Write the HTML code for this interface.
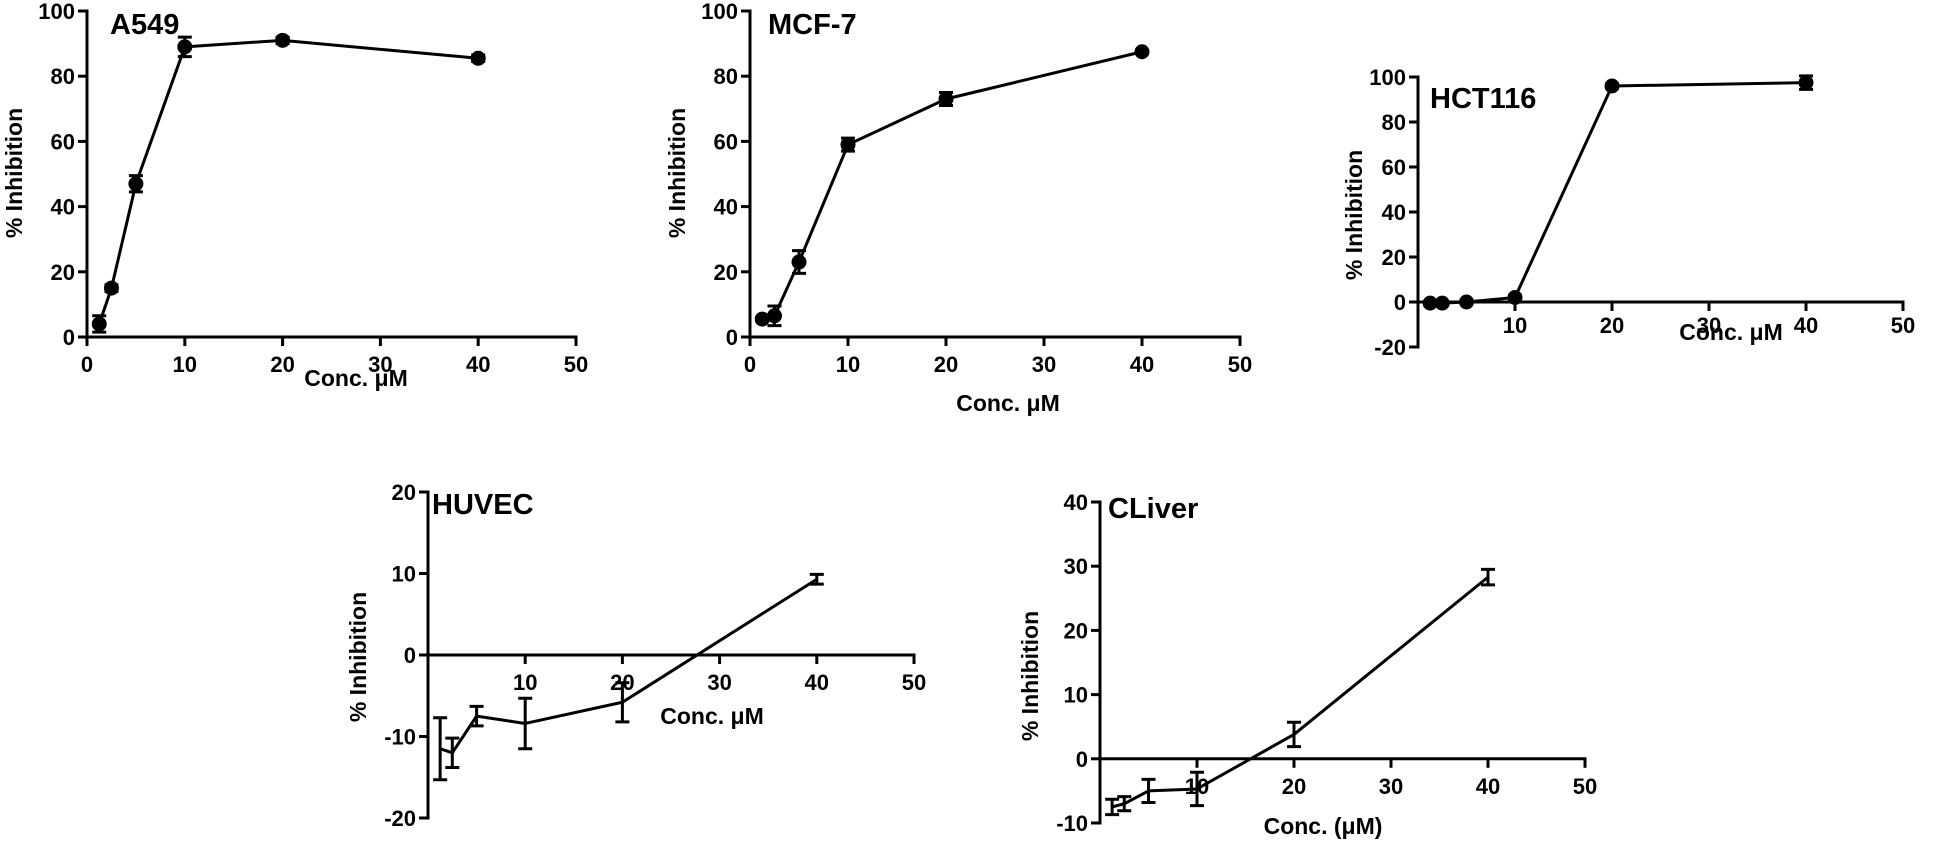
<!DOCTYPE html>
<html><head><meta charset="utf-8"><style>
html,body{margin:0;padding:0;background:#fff;}
svg{display:block;font-family:"Liberation Sans",Arial,sans-serif;font-weight:bold;}
</style></head><body>
<svg id="fig" width="1950" height="843" viewBox="0 0 1950 843"></svg>
<script>
const concentrations = [1.25, 2.5, 5, 10, 20, 40];
const a549Values = [4, 15, 47, 89, 91, 85.5];
const a549Errors = [2.5, 1, 2.5, 3, 1, 1];
const mcf7Values = [5.5, 6.5, 23, 59, 73, 87.5];
const mcf7Errors = [0.5, 3, 3.5, 2, 2, 0.5];
const hct116Values = [-0.5, -0.5, 0, 2, 96, 97.5];
const hct116Errors = [0.5, 0.5, 0.5, 1, 1, 3];
const huvecValues = [-11.5, -12, -7.5, -8.4, -5.8, 9.3];
const huvecErrors = [3.8, 1.8, 1.2, 3.1, 2.4, 0.6];
const cliverValues = [-7.5, -7, -5, -4.7, 3.8, 28.3];
const cliverErrors = [1.2, 1.1, 1.8, 2.6, 1.9, 1.2];
const xTicks = [0, 10, 20, 30, 40, 50];
const yTicksTop = [0, 20, 40, 60, 80, 100];
const yTicksHct = [-20, 0, 20, 40, 60, 80, 100];
const yTicksHuvec = [-20, -10, 0, 10, 20];
const yTicksCliver = [-10, 0, 10, 20, 30, 40];

const NS = "http://www.w3.org/2000/svg";
const svg = document.getElementById("fig");
function mk(tag, attrs, parent) {
  const e = document.createElementNS(NS, tag);
  for (const k in attrs) e.setAttribute(k, attrs[k]);
  (parent || svg).appendChild(e);
  return e;
}
function panel(p) {
  const g = mk("g", {});
  
  
  const sx = v => p.x0 + v / 50 * (p.x1 - p.x0);
  const sy = v => p.yb + (v - p.ymin) / (p.ymax - p.ymin) * (p.yt - p.yb);
  const axY = sy(p.xAxisAt);
  const ya = mk("line", {x1: p.x0, y1: sy(p.ymin) + 1.5, x2: p.x0, y2: sy(p.ymax) - 1.5, stroke: "#000", "stroke-width": 3}, g);
  
  
  p.yTicks.forEach(t => {
    mk("line", {x1: p.x0 - 9, y1: sy(t), x2: p.x0, y2: sy(t), stroke: "#000", "stroke-width": 3}, g);
    const tl = mk("text", {x: p.x0 - 12, y: sy(t) + 8, "font-size": 22, "text-anchor": "end"}, g);
    tl.textContent = t;
    
    
  });
  const xa = mk("line", {x1: p.x0, y1: axY, x2: sx(50) + 1.5, y2: axY, stroke: "#000", "stroke-width": 3}, g);
  
  
  xTicks.forEach(t => {
    if (t === 0 && !p.showZero) { return; }
    mk("line", {x1: sx(t), y1: axY, x2: sx(t), y2: axY + 9, stroke: "#000", "stroke-width": 3}, g);
    const tl = mk("text", {x: sx(t), y: axY + (p.tickGap || 35), "font-size": 22, "text-anchor": "middle"}, g);
    tl.textContent = t;
    
    
  });
  const pts = concentrations.map((c, i) => sx(c) + "," + sy(p.values[i])).join(" ");
  const ln = mk("polyline", {points: pts, fill: "none", stroke: "#000", "stroke-width": 3, "stroke-linejoin": "round"}, g);
  
  
  concentrations.forEach((c, i) => {
    const cx = sx(c), v = p.values[i], e = p.errors[i];
    const eb = mk("path", {d: `M${cx},${sy(v - e)}V${sy(v + e)}M${cx - 7},${sy(v - e)}H${cx + 7}M${cx - 7},${sy(v + e)}H${cx + 7}`, stroke: "#000", "stroke-width": 3, fill: "none"}, g);
    
    
    if (p.markers) {
      const m = mk("circle", {cx: cx, cy: sy(v), r: 7.5, fill: "#000"}, g);
      
      
    }
  });
  const ti = mk("text", {x: p.titleX, y: p.titleY, "font-size": 29}, g);
  ti.textContent = p.title;
  
  
  const xl = mk("text", {x: p.xlX, y: p.xlY, "font-size": 23, "text-anchor": "middle"}, g);
  xl.textContent = p.xlabel;
  
  
  const yl = mk("text", {x: 0, y: 0, "font-size": 23, "text-anchor": "middle", transform: `translate(${p.ylX},${p.ylY}) rotate(-90)`}, g);
  yl.textContent = "% Inhibition";
  
  
}
panel({id: "a549", title: "A549", values: a549Values, errors: a549Errors, yTicks: yTicksTop, ymin: 0, ymax: 100, xAxisAt: 0,
  x0: 87, x1: 576, yb: 337, yt: 11, markers: true, showZero: true, titleX: 110, titleY: 34, xlX: 356, xlY: 386, xlabel: "Conc. μM", ylX: 22, ylY: 173});
panel({id: "mcf7", title: "MCF-7", values: mcf7Values, errors: mcf7Errors, yTicks: yTicksTop, ymin: 0, ymax: 100, xAxisAt: 0,
  x0: 750, x1: 1240, yb: 337, yt: 11, markers: true, showZero: true, titleX: 768, titleY: 34, xlX: 1008, xlY: 411, xlabel: "Conc. μM", ylX: 685, ylY: 173});
panel({id: "hct116", title: "HCT116", values: hct116Values, errors: hct116Errors, yTicks: yTicksHct, ymin: -20, ymax: 100, xAxisAt: 0,
  x0: 1418, x1: 1903, yb: 347, yt: 77, markers: true, showZero: false, tickGap: 31, titleX: 1430, titleY: 108, xlX: 1731, xlY: 340, xlabel: "Conc. μM", ylX: 1362, ylY: 215});
panel({id: "huvec", title: "HUVEC", values: huvecValues, errors: huvecErrors, yTicks: yTicksHuvec, ymin: -20, ymax: 20, xAxisAt: 0,
  x0: 428, x1: 914, yb: 818, yt: 492, markers: false, showZero: false, titleX: 432, titleY: 514, xlX: 712, xlY: 724, xlabel: "Conc. μM", ylX: 366, ylY: 657});
panel({id: "cliver", title: "CLiver", values: cliverValues, errors: cliverErrors, yTicks: yTicksCliver, ymin: -10, ymax: 40, xAxisAt: 0,
  x0: 1100, x1: 1585, yb: 823, yt: 502, markers: false, showZero: false, titleX: 1108, titleY: 518, xlX: 1323, xlY: 834, xlabel: "Conc. (μM)", ylX: 1038, ylY: 676});
</script>
</body></html>
